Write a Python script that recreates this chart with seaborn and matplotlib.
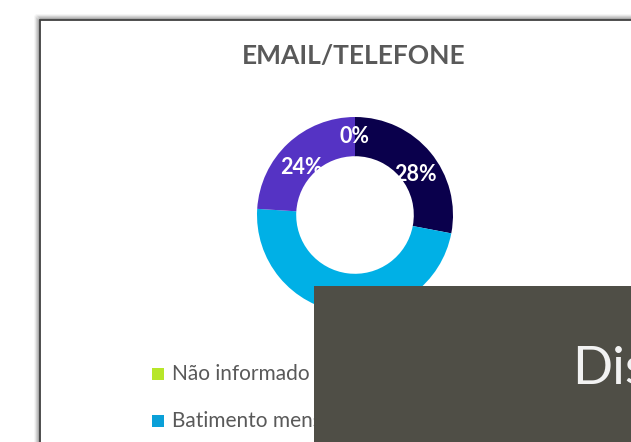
import numpy as np
import matplotlib
matplotlib.use("Agg")
import matplotlib.pyplot as plt
import seaborn as sns
from matplotlib.patches import Rectangle

categories = ["Não informado", "Batimento mensal", "Outros", "Sem retorno"]
shares = [0, 28, 48, 24]
slice_colors = ["#b7e629", "#0a004c", "#00b0e6", "#5533c4"]
legend_labels = ["Não informado", "Batimento mensal"]
legend_colors = ["#b7e629", "#0aa0d8"]

sns.set_theme(style="white")
plt.rcParams['font.family'] = ['Lato', 'DejaVu Sans']

W, H = 631, 442
fig = plt.figure(figsize=(W / 100, H / 100), dpi=100)
fig.patch.set_facecolor("white")

# background axes in pixel coordinates
bg = fig.add_axes([0, 0, 1, 1], zorder=0)
bg.set_xlim(0, W)
bg.set_ylim(H, 0)
bg.axis("off")

# soft shadow + border of the chart area
for i, a in enumerate([0.04, 0.06, 0.09, 0.13, 0.18]):
    off = 5 - i
    bg.add_patch(Rectangle((40 - off, 20 - off), 700, 500, fill=False,
                           edgecolor="black", lw=2, alpha=a))
bg.add_patch(Rectangle((40, 20), 700, 500, facecolor="white",
                       edgecolor="#404040", lw=1.3))

bg.text(354, 56, "EMAIL/TELEFONE", ha="center", va="center",
        fontsize=19, fontweight="bold", color="#595959")

# legend
for i, (lab, col) in enumerate(zip(legend_labels, legend_colors)):
    y = 374 + i * 47
    bg.add_patch(Rectangle((152, y - 6), 12, 12, facecolor=col, edgecolor="none"))
    bg.text(172, y, lab, ha="left", va="center", fontsize=15, color="#595959")

# donut
cx, cy, r = 355, 215, 98
pie_ax = fig.add_axes([(cx - r) / W, 1 - (cy + r) / H, 2 * r / W, 2 * r / H], zorder=1)
pie_ax.patch.set_alpha(0)
wedges, texts, autotexts = pie_ax.pie(
    shares, colors=slice_colors, startangle=90, counterclock=False,
    radius=1, autopct=lambda p: f"{p:.0f}%", pctdistance=0.8,
    wedgeprops=dict(width=0.4, edgecolor="none"),
    textprops=dict(color="white", fontsize=15.5, fontweight="bold"))
wedges[0].set_edgecolor(slice_colors[0])
wedges[0].set_linewidth(1)
# Excel puts the side labels a little lower than the wedge middle
for t in autotexts[1:]:
    x, y = t.get_position()
    t.set_position((x, y - 0.1))
pie_ax.set_xlim(-1, 1)
pie_ax.set_ylim(-1, 1)
pie_ax.set_aspect("equal")
pie_ax.axis("off")

# overlaying dark panel
top = fig.add_axes([0, 0, 1, 1], zorder=2)
top.set_xlim(0, W)
top.set_ylim(H, 0)
top.axis("off")
top.patch.set_alpha(0)
top.add_patch(Rectangle((314, 286), 330, 170, facecolor="#4f4e46", edgecolor="none"))
top.text(572, 370, "Dis", ha="left", va="center", fontsize=38, color="#f2f2f2")

fig.savefig("out.png", dpi=100)
